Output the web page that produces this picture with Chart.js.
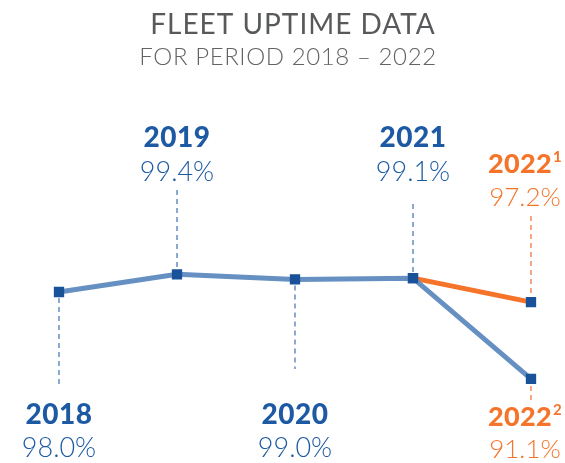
<!DOCTYPE html>
<html>
<head>
<meta charset="utf-8">
<script src="https://cdn.jsdelivr.net/npm/chart.js@4"></script>
<style>
  html, body { margin: 0; padding: 0; background: #fff; }
  #wrap { width: 565px; height: 463px; position: relative; }
</style>
</head>
<body>
<div id="wrap"><canvas id="c" width="565" height="463"></canvas></div>
<script>
// ---- data ----
const categories = ['2018', '2019', '2020', '2021', '2022'];
const seriesMain = [98.0, 99.4, 99.0, 99.1, 91.1];       // 2022 value = footnote 2
const seriesAlt = [null, null, null, 99.1, 97.2];        // 2022 value = footnote 1
const yearLabels = ['2018', '2019', '2020', '2021'];
const valueLabels = ['98.0%', '99.4%', '99.0%', '99.1%'];
const altYearLabel = '2022';
const altSup = '1';
const altValueLabel = '97.2%';
const mainLastYearLabel = '2022';
const mainLastSup = '2';
const mainLastValueLabel = '91.1%';
const titleText = 'FLEET UPTIME DATA';
const subtitleText = 'FOR PERIOD 2018 \u2013 2022';

const BLUE_LINE = '#6690c1';
const BLUE_MARK = '#1a5299';
const BLUE_TEXT = '#1d5aa3';
const ORANGE = '#f5742a';
const DASH_BLUE = '#6f95c6';
const DASH_ORANGE = '#f49262';
const FONT = 'Lato, "Noto Sans", sans-serif';

// label placement: 'up' above point, 'down' below point
const placement = ['down', 'up', 'down', 'up'];

function drawSupLabel(ctx, x, y, main, sup, color) {
  ctx.save();
  ctx.fillStyle = color;
  ctx.textBaseline = 'middle';
  ctx.textAlign = 'left';
  ctx.font = '900 27px ' + FONT;
  ctx.letterSpacing = '0.3px';
  const w1 = ctx.measureText(main).width;
  ctx.font = 'bold 15px ' + FONT;
  const w2 = ctx.measureText(sup).width;
  const start = x - (w1 + w2 + 1) / 2;
  ctx.font = '900 27px ' + FONT;
  ctx.fillText(main, start, y);
  ctx.font = 'bold 15px ' + FONT;
  ctx.fillText(sup, start + w1 + 1, y - 7);
  ctx.restore();
}

const annotate = {
  id: 'annotate',
  beforeDatasetsDraw(chart) {
    const ctx = chart.ctx;
    const xs = chart.scales.x, ys = chart.scales.y;
    ctx.save();
    ctx.lineWidth = 1.6;
    ctx.setLineDash([5, 4]);
    const topEnds = { 1: 190, 3: 204 };
    const botEnds = { 0: 388, 2: 369 };
    for (let i = 0; i < 4; i++) {
      const px = xs.getPixelForValue(i);
      const py = ys.getPixelForValue(seriesMain[i]);
      ctx.strokeStyle = DASH_BLUE;
      ctx.beginPath();
      if (placement[i] === 'up') {
        ctx.moveTo(px, topEnds[i]); ctx.lineTo(px, py - 6);
      } else {
        ctx.moveTo(px, py + 6); ctx.lineTo(px, botEnds[i]);
      }
      ctx.stroke();
    }
    const px4 = xs.getPixelForValue(4);
    ctx.strokeStyle = DASH_ORANGE;
    ctx.beginPath();
    ctx.moveTo(px4, 216); ctx.lineTo(px4, ys.getPixelForValue(seriesAlt[4]) - 6);
    ctx.moveTo(px4, ys.getPixelForValue(seriesMain[4]) + 7); ctx.lineTo(px4, 402);
    ctx.stroke();
    ctx.restore();
  },
  afterDraw(chart) {
    const ctx = chart.ctx;
    const xs = chart.scales.x;
    ctx.save();
    ctx.textAlign = 'center';
    ctx.textBaseline = 'middle';
    ctx.fillStyle = '#58595b';
    ctx.font = '400 28px ' + FONT;
    ctx.letterSpacing = '1px';
    ctx.fillText(titleText, 293, 25);
    ctx.fillStyle = '#626366';
    ctx.font = '300 24px ' + FONT;
    ctx.letterSpacing = '0.6px';
    ctx.fillText(subtitleText, 288, 57);

    for (let i = 0; i < 4; i++) {
      const px = xs.getPixelForValue(i);
      const yY = placement[i] === 'up' ? 138 : 415;
      const yV = placement[i] === 'up' ? 172 : 448;
      ctx.fillStyle = BLUE_TEXT;
      ctx.font = '900 28px ' + FONT;
      ctx.letterSpacing = '0.5px';
      ctx.fillText(yearLabels[i], px, yY);
      ctx.font = '300 27px ' + FONT;
      ctx.letterSpacing = '0px';
      ctx.fillText(valueLabels[i], px, yV);
    }
    // labels for the last category sit slightly left of the point (edge of canvas)
    const lx = xs.getPixelForValue(4) - 6;
    drawSupLabel(ctx, lx, 164, altYearLabel, altSup, ORANGE);
    ctx.fillStyle = ORANGE;
    ctx.textAlign = 'center';
    ctx.letterSpacing = '0px';
    ctx.font = '300 26px ' + FONT;
    ctx.fillText(altValueLabel, lx, 198);
    drawSupLabel(ctx, lx, 417, mainLastYearLabel, mainLastSup, ORANGE);
    ctx.fillStyle = ORANGE;
    ctx.textAlign = 'center';
    ctx.letterSpacing = '0px';
    ctx.font = '300 26px ' + FONT;
    ctx.fillText(mainLastValueLabel, lx, 450);
    ctx.restore();
  }
};

new Chart(document.getElementById('c'), {
  type: 'line',
  data: {
    labels: categories,
    datasets: [
      {
        data: seriesAlt,
        borderColor: ORANGE,
        borderWidth: 5,
        pointStyle: 'rect',
        pointRadius: 7.3,
        pointBackgroundColor: BLUE_MARK,
        pointBorderWidth: 0,
        tension: 0,
        order: 2
      },
      {
        data: seriesMain,
        borderColor: BLUE_LINE,
        borderWidth: 5,
        pointStyle: 'rect',
        pointRadius: 7.3,
        pointBackgroundColor: BLUE_MARK,
        pointBorderWidth: 0,
        tension: 0,
        order: 1
      }
    ]
  },
  options: {
    responsive: false,
    animation: false,
    layout: { padding: { top: 103, bottom: 45, left: 59, right: 34 } },
    plugins: { legend: { display: false }, tooltip: { enabled: false }, title: { display: false } },
    scales: {
      x: { display: false, offset: false },
      y: { display: false, min: 88, max: 113 }
    }
  },
  plugins: [annotate]
});
</script>
</body>
</html>
